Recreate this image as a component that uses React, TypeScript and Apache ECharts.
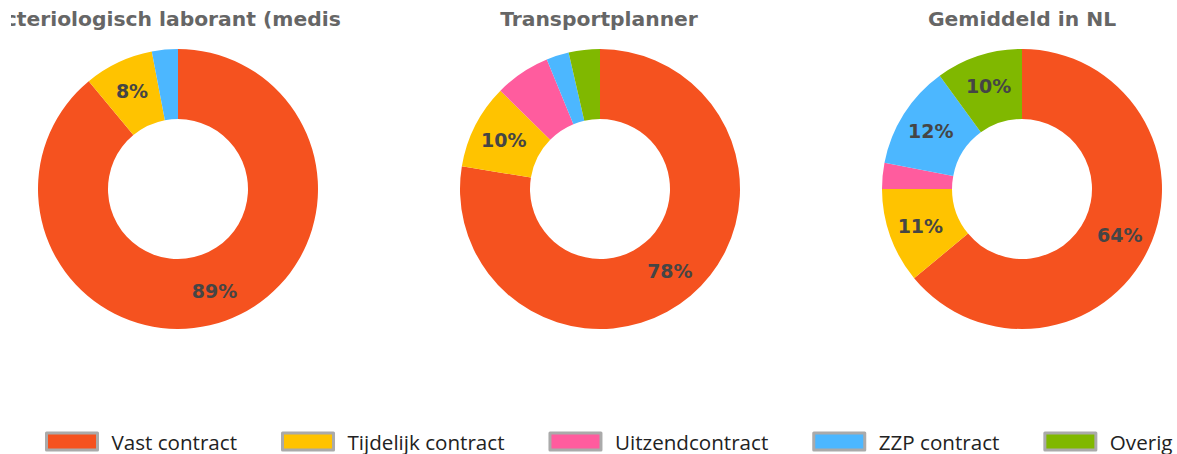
import React, { useEffect, useRef } from "react";
import * as echarts from "echarts";

const categories = ["Vast contract", "Tijdelijk contract", "Uitzendcontract", "ZZP contract", "Overig"];
const colors = ["#F5521F", "#FFC300", "#FF5C9E", "#4CB7FF", "#80B800"];
const titles = ["Bacteriologisch laborant (medisch)", "Transportplanner", "Gemiddeld in NL"];
const valuesLaborant = [89, 8, 0, 3, 0];
const valuesTransport = [77.6, 9.8, 6.4, 2.6, 3.6];
const valuesNL = [64, 11, 3, 12, 10];
const allValues = [valuesLaborant, valuesTransport, valuesNL];
const centersX = [178, 600, 1022];
const titlesX = [176, 599, 1022];

export default function App() {
  const ref = useRef<HTMLDivElement>(null);
  useEffect(() => {
    if (!ref.current) return;
    const chart = echarts.init(ref.current, null, { renderer: "svg" });
    const series = allValues.map((vals, i) => ({
      type: "pie",
      center: [centersX[i], 189],
      radius: [70, 140],
      startAngle: 90,
      clockwise: true,
      avoidLabelOverlap: false,
      silent: true,
      itemStyle: { borderWidth: 0 },
      label: {
        show: true,
        position: "inside",
        formatter: (p: any) => (p.value >= 7 ? Math.round(p.value) + "%" : ""),
        fontFamily: "DejaVu Sans",
        fontWeight: "bold",
        fontSize: 19,
        color: "#454545",
      },
      labelLine: { show: false },
      data: categories.map((name, k) => ({ name, value: vals[k] })),
    }));
    const graphic: any[] = titles.map((t, i) => ({
      type: "text",
      x: titlesX[i],
      y: 19,
      z: 10,
      style: {
        text: t,
        align: "center",
        verticalAlign: "middle",
        font: 'bold 20.3px "DejaVu Sans"',
        fill: "#666666",
      },
    }));
    graphic.push(
      { type: "rect", z: 20, shape: { x: 0, y: 0, width: 11, height: 36 }, style: { fill: "#fff" } },
      { type: "rect", z: 20, shape: { x: 341, y: 0, width: 120, height: 36 }, style: { fill: "#fff" } }
    );
    chart.setOption({
      animation: false,
      color: colors,
      legend: {
        data: categories,
        left: 45,
        top: 431,
        width: 1200,
        padding: 0,
        icon: "rect",
        itemWidth: 51,
        itemHeight: 17,
        itemGap: 44,
        selectedMode: false,
        itemStyle: { borderColor: "#AAAAAA", borderWidth: 3 },
        textStyle: {
          fontFamily: "Open Sans",
          fontSize: 20.6,
          color: "#222",
          padding: [0, 0, 0, 9],
        },
      },
      graphic,
      series,
    });
    return () => chart.dispose();
  }, []);
  return (
    <div
      ref={ref}
      style={{ position: "absolute", left: 0, top: 0, width: 1177, height: 454, background: "#fff" }}
    />
  );
}
